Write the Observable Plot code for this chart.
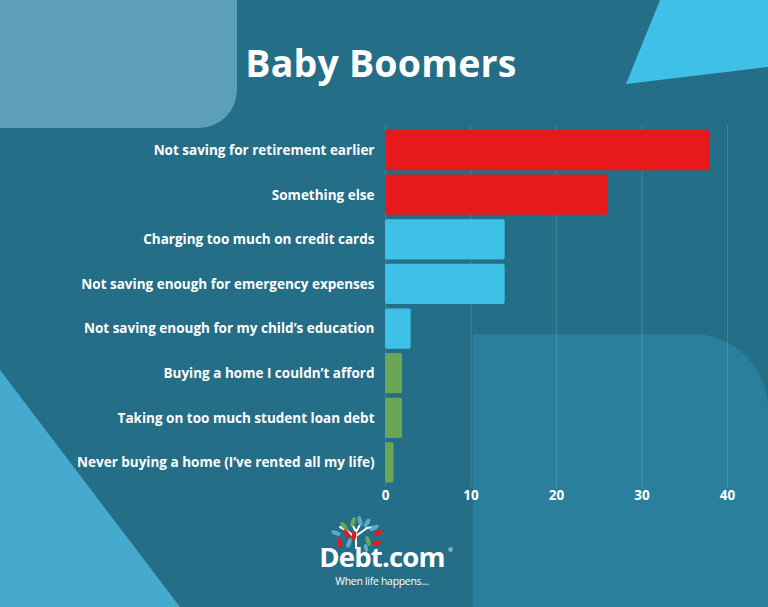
<!DOCTYPE html>
<html>
<head>
<meta charset="utf-8">
<script src="https://cdn.jsdelivr.net/npm/d3@7"></script>
<script src="https://cdn.jsdelivr.net/npm/@observablehq/plot@0.6"></script>
<style>
  html, body { margin: 0; padding: 0; }
  #wrap { position: relative; width: 768px; height: 607px; overflow: hidden; background: #256e88; font-family: "Open Sans", sans-serif; }
  #bg, #logo { position: absolute; left: 0; top: 0; }
  #chart { position: absolute; left: 0; top: 0; }
  #title { position: absolute; left: 0; width: 762px; top: 37px; text-align: center; color: #fff; font-size: 37.5px; font-weight: 700; margin: 0; letter-spacing: 0.2px; }
</style>
</head>
<body>
<div id="wrap">
  <svg id="bg" width="768" height="607">
    <path d="M0,0 H237 V90 A38,38 0 0 1 199,128 H0 Z" fill="#5d9fb8"/>
    <path d="M660,0 H768 V67 L626,84 Z" fill="#3ec0e7"/>
    <path d="M0,370 L180,607 H0 Z" fill="#45aacd"/>
    <path d="M473,607 V334 H693 A75,75 0 0 1 768,409 V607 Z" fill="#2a7f9c"/>
  </svg>
  <h1 id="title">Baby Boomers</h1>
  <div id="chart"></div>
  <svg id="logo" width="768" height="607">
    <g stroke="#fff" stroke-width="2" fill="none" stroke-linecap="round">
      <path d="M356,548 L356,530"/>
      <path d="M356,538 L346,530"/>
      <path d="M356,536 L367,528"/>
      <path d="M356,532 L352,524"/>
      <path d="M356,532 L361,523"/>
      <path d="M346,530 L340,527"/>
      <path d="M367,528 L374,527"/>
    </g>
    <g>
      <ellipse cx="353" cy="522" rx="2.2" ry="5" fill="#6aa84f" transform="rotate(20 353 522)"/>
      <ellipse cx="360" cy="521" rx="2.2" ry="5" fill="#5aaac8" transform="rotate(-15 360 521)"/>
      <ellipse cx="367" cy="523" rx="2.2" ry="5" fill="#5aaac8" transform="rotate(30 367 523)"/>
      <ellipse cx="344" cy="526" rx="2.2" ry="5" fill="#6aa84f" transform="rotate(-40 344 526)"/>
      <ellipse cx="374" cy="528" rx="2.2" ry="5" fill="#5aaac8" transform="rotate(60 374 528)"/>
      <ellipse cx="336" cy="533" rx="2.2" ry="5" fill="#5aaac8" transform="rotate(-70 336 533)"/>
      <ellipse cx="347" cy="534" rx="2.2" ry="5" fill="#e8191a" transform="rotate(-30 347 534)"/>
      <ellipse cx="354" cy="536" rx="2.2" ry="5" fill="#e8191a" transform="rotate(10 354 536)"/>
      <ellipse cx="378" cy="533" rx="2.2" ry="5" fill="#e8191a" transform="rotate(60 378 533)"/>
      <ellipse cx="340" cy="543" rx="2.2" ry="5" fill="#e8191a" transform="rotate(-10 340 543)"/>
      <ellipse cx="349" cy="543" rx="2.2" ry="5" fill="#5aaac8" transform="rotate(20 349 543)"/>
      <ellipse cx="368" cy="541" rx="2.2" ry="5" fill="#6aa84f" transform="rotate(-20 368 541)"/>
      <ellipse cx="377" cy="543" rx="2.2" ry="5" fill="#e8191a" transform="rotate(80 377 543)"/>
      <ellipse cx="366" cy="548" rx="2" ry="4" fill="#5aaac8" transform="rotate(-10 366 548)"/>
    </g>
    <text x="382" y="567" text-anchor="middle" fill="#fff" font-family="Open Sans" font-weight="700" font-size="27.5" letter-spacing="-0.8">Debt.com</text>
    <text x="448" y="552" fill="#fff" font-family="Open Sans" font-size="6">®</text>
    <text x="382" y="585" text-anchor="middle" fill="#fff" font-family="Open Sans" font-size="10.5" letter-spacing="-0.3">When life happens...</text>
  </svg>
</div>
<script>
const categories = [
  "Not saving for retirement earlier",
  "Something else",
  "Charging too much on credit cards",
  "Not saving enough for emergency expenses",
  "Not saving enough for my child\u2019s education",
  "Buying a home I couldn\u2019t afford",
  "Taking on too much student loan debt",
  "Never buying a home (I\u2019ve rented all my life)"
];
const values = [38, 26, 14, 14, 3, 2, 2, 1];
const groups = ["top", "top", "mid", "mid", "mid", "low", "low", "low"];
const xTicks = [0, 10, 20, 30, 40];

const data = categories.map((c, i) => ({category: c, value: values[i], group: groups[i]}));

const chart = Plot.plot({
  width: 768,
  height: 607,
  marginLeft: 385,
  marginRight: 41,
  marginTop: 125.5,
  marginBottom: 120,
  style: {background: "transparent", color: "#fff", fontFamily: "Open Sans", fontWeight: 700, fontSize: "13.5px"},
  x: {domain: [0, 40], ticks: xTicks, label: null, tickSize: 0, tickPadding: 3},
  y: {domain: categories, label: null, padding: 0.1, round: false, tickSize: 0, tickPadding: 11},
  color: {domain: ["top", "mid", "low"], range: ["#e8191a", "#3ec1e6", "#6aa653"]},
  marks: [
    Plot.ruleX(xTicks, {x: d => d, stroke: "#fff", strokeOpacity: 0.15, strokeWidth: 1}),
    Plot.barX(data, {x: "value", y: "category", fill: "group", rx: 2})
  ]
});
document.getElementById("chart").appendChild(chart);
</script>
</body>
</html>
